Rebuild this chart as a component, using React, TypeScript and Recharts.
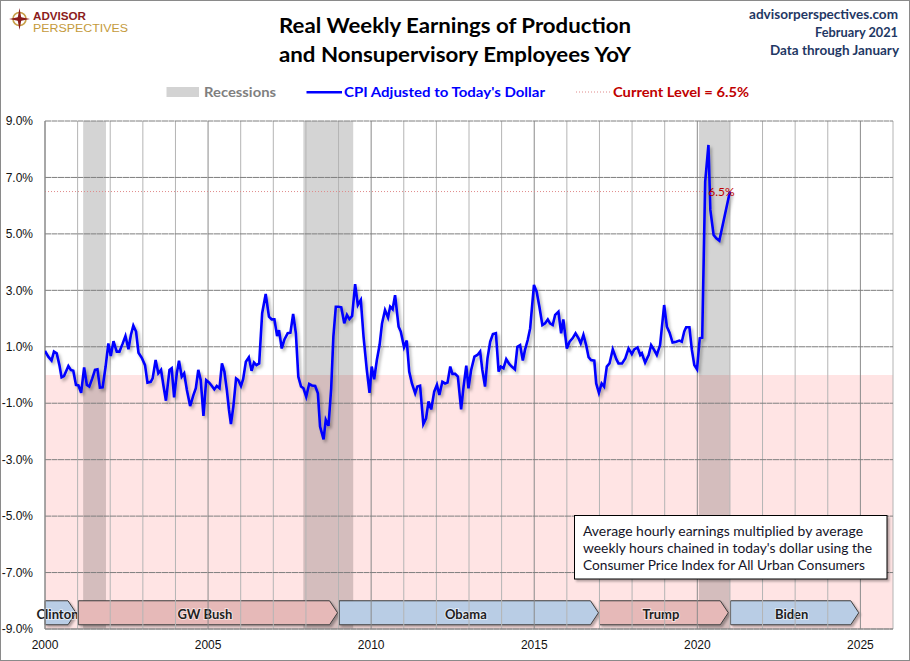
import React from 'react';
import {
  LineChart,
  Line,
  XAxis,
  YAxis,
  ReferenceArea,
  ReferenceLine,
  ReferenceDot,
} from 'recharts';

// [months since Jan 2000, YoY %]
const seg2000_2003: [number, number][] = [
  [0, 0.85], [1.2, 0.65], [2.4, 0.51], [3.3, 0.83], [4.3, 0.77], [5.3, 0.35], [6.1, -0.08], [7, -0.04],
  [8.6, 0.32], [9.5, 0.18], [10.4, 0.15], [11.4, -0.35], [12.3, -0.37], [13.3, -0.63], [14.4, 0.27],
  [15.4, -0.35], [16.3, -0.41], [17.4, -0.12], [18.4, 0.18], [19.3, 0.2], [20.2, -0.45], [21.2, -0.44],
  [22.3, 0.3], [23.3, 1.12], [24.2, 0.67], [25.2, 1.2], [26.4, 0.83], [27.4, 0.83], [28.6, 1.12],
  [29.6, 1.38], [30.7, 0.91], [31.6, 1.42], [32.5, 1.75], [33.5, 1.54], [34.4, 0.79], [35.6, 0.61],
  [36.8, 0.35], [37.7, -0.27], [38.9, -0.24], [39.6, -0.12], [40.7, 0.53], [41.7, 0.06], [42.7, 0.18],
  [43.6, -0.39], [44.5, -0.91], [45.8, 0.18], [46.6, 0.24], [47.5, -0.79],
];

const seg2004_2009: [number, number][] = [
  [48.5, 0.06], [49.3, 0.51], [50.3, -0.06], [51.2, 0.06], [52.2, -0.53], [53.4, -1.1], [54.6, -0.71],
  [55.5, -0.47], [56.4, 0.18], [57.3, -0.18], [58.3, -1.45], [59.3, -0.18], [60.4, -0.27], [61.4, -0.39],
  [62.3, -0.51], [63.2, -0.39], [64.2, -0.47], [65.1, 0.41], [66, 0.12], [66.9, -0.53], [67.7, -1.24],
  [68.4, -1.74], [69.3, -1.12], [70.3, -0.12], [71.1, -0.18], [72.1, -0.39], [72.9, -0.15], [73.9, 0.47],
  [75, 0.63], [76, 0.15], [76.9, 0.44], [77.8, 0.35], [78.8, 0.41], [79.9, 2.19], [81.2, 2.87],
  [82.4, 2.07], [83.4, 1.97], [84.4, 1.97], [85.4, 1.38], [86.1, 1.59], [87.1, 0.94], [88.1, 1.26],
  [89.3, 1.48], [90.3, 1.5], [91.3, 2.16], [92.3, 1.48], [93.2, -0.06], [94.2, -0.41], [95.1, -0.47],
  [96.1, -0.77], [97.2, -0.32], [98.2, -0.37], [99.4, -0.39], [100.4, -0.65], [101.2, -1.83],
  [102.5, -2.28], [103.3, -1.59], [104.3, -1.8], [105.3, -0.47], [106.1, 1.36], [107, 2.42], [108, 2.42],
  [109, 2.4], [110.1, 1.83], [111.1, 2.13], [112, 1.98], [113, 2.09],
];

const seg2009_2016: [number, number][] = [
  [114.1, 3.22], [115.1, 2.48], [116.2, 2.66], [117.2, 1.36], [118.4, 0.18], [119.4, -0.63], [120.2, 0.3],
  [121.1, -0.15], [122.1, 0.53], [123.1, 1.06], [124, 1.83], [125.1, 2.3], [126.2, 2.04], [127, 2.42],
  [127.9, 2.33], [128.8, 2.83], [130.1, 1.71], [130.9, 1.54], [132.1, 0.98], [133.1, 1.22], [134, 0.12],
  [135, -0.3], [136.2, -0.65], [137, -0.41], [138, -0.38], [139.2, -1.74], [140.2, -1.54], [141.1, -0.94],
  [142.1, -1.22], [143.2, -0.59], [144.2, -0.35], [145.1, -0.71], [146.2, -0.24], [147.2, -0.3],
  [148.1, -0.27], [149.1, 0.3], [149.9, 0.04], [150.9, 0.04], [151.9, -0.06], [153.1, -1.22], [154, -0.41],
  [155, 0.33], [155.8, -0.47], [156.8, 0.18], [158, 0.65], [159.1, 0.71], [160.1, 0.83], [160.9, 0.18],
  [161.9, -0.41], [162.8, 0.59], [163.8, 1.18], [164.8, 1.45], [165.9, 1.48], [166.9, 0.12], [167.7, 0.3],
  [168.7, 0.24], [169.7, 0.56], [170.8, 0.39], [171.7, 0.3], [172.9, 0.2], [173.8, 1.0], [174.8, 1.06],
  [175.8, 0.51], [176.6, 0.89], [177.6, 1.24], [178.5, 1.65], [179.9, 3.19], [180.9, 2.95], [181.9, 2.42],
  [183, 1.77], [184, 1.83], [185, 1.97], [185.8, 1.83], [186.8, 1.77], [187.7, 2.13], [188.9, 2.24],
  [189.9, 1.48], [190.7, 1.97], [192, 0.94], [193, 1.18], [194.1, 1.3], [195.2, 1.48], [196.3, 1.3],
  [197.1, 1.12], [198.1, 1.42], [199.1, 1.06], [200, 0.63], [200.9, 0.53], [202.1, 0.51],
];

const seg2017_2021: [number, number][] = [
  [202.8, -0.3], [203.8, -0.63], [204.8, -0.3], [205.7, -0.41], [206.7, 0.3], [207.7, 0.41], [208.9, 0.91],
  [210.2, 0.56], [211, 0.41], [212.3, 0.41], [213.5, 0.59], [214.7, 0.94], [215.9, 0.74], [216.8, 0.91],
  [218, 0.98], [219, 0.71], [219.6, 0.77], [220.8, 0.44], [222.1, 0.71], [223, 1.06], [224.1, 0.89],
  [225.1, 0.71], [226.3, 1.06], [227.8, 2.48], [228.8, 1.71], [229.8, 1.5], [230.9, 1.15], [232.2, 1.18],
  [233.4, 1.22], [234.3, 1.18], [235.2, 1.54], [235.9, 1.69], [237.1, 1.69], [238, 0.89], [238.9, 0.35],
  [239.9, 0.2], [240.9, 1.3], [241.8, 1.32], [242.9, 6.85], [244.1, 8.15], [244.8, 5.85], [246, 4.96],
  [247, 4.84], [248.1, 4.76], [252, 6.5],
];

const recessions: [number, number][] = [
  [2001.17, 2001.87],
  [2007.92, 2009.45],
  [2020.05, 2021.0],
];

const presidents = [
  { name: 'Clinton', start: 2000, end: 2000.95, party: 'D' },
  { name: 'GW Bush', start: 2001.02, end: 2008.97, party: 'R' },
  { name: 'Obama', start: 2009.02, end: 2016.97, party: 'D' },
  { name: 'Trump', start: 2017.0, end: 2020.95, party: 'R' },
  { name: 'Biden', start: 2021.02, end: 2024.95, party: 'D' },
];

const xTicks = [
  2000, 2001, 2002, 2003, 2004, 2005, 2006, 2007, 2008, 2009, 2010, 2011, 2012, 2013,
  2014, 2015, 2016, 2017, 2018, 2019, 2020, 2021, 2022, 2023, 2024, 2025, 2026,
];
const xLabelYears = [2000, 2005, 2010, 2015, 2020, 2025];
const yTicks = [-9, -7, -5, -3, -1, 1, 3, 5, 7, 9];
const currentLevel = 6.5;

const series = [...seg2000_2003, ...seg2004_2009, ...seg2009_2016, ...seg2017_2021].map(([m, v]) => ({
  x: 2000 + m / 12,
  y: v,
}));

const FONT = 'Lato, "Open Sans", sans-serif';
const AXIS_FONT = '"Liberation Sans", Arial, sans-serif';

const CHART_W = 910;
const CHART_H = 661;
const MARGIN = { top: 121, right: 17, bottom: 0, left: 0 };
const Y_AXIS_W = 45;

const makeArrow = (label: string, fill: string) => (props: any) => {
  const { x, y, width, height } = props;
  const tip = 8;
  const pts = `${x},${y} ${x + width - tip},${y} ${x + width},${y + height / 2} ${x + width - tip},${y + height} ${x},${y + height}`;
  return (
    <g>
      <polygon points={pts} fill={fill} stroke="#3c3c3c" strokeWidth={1} filter="url(#boxShadow)" />
      <text
        x={x + (width - tip) / 2 + 1}
        y={y + height / 2 + 1}
        textAnchor="middle"
        dominantBaseline="central"
        fontFamily={FONT}
        fontWeight={700}
        fontSize={13}
        fill="#1e1e1e"
        stroke="#ffffff"
        strokeWidth={2}
        strokeOpacity={0.55}
        paintOrder="stroke"
      >
        {label}
      </text>
    </g>
  );
};

export default function App() {
  return (
    <div
      style={{
        position: 'absolute',
        left: 0,
        top: 0,
        width: CHART_W,
        height: CHART_H,
        background: '#ffffff',
        boxSizing: 'border-box',
        border: '1px solid #8a8a8a',
        overflow: 'hidden',
      }}
    >
      <svg width={0} height={0} style={{ position: 'absolute' }}>
        <defs>
          <filter id="lineShadow" x="-5%" y="-10%" width="115%" height="130%">
            <feDropShadow dx="2" dy="2.5" stdDeviation="1.4" floodColor="#000" floodOpacity="0.3" />
          </filter>
          <filter id="boxShadow" x="-5%" y="-20%" width="115%" height="160%">
            <feDropShadow dx="2" dy="2" stdDeviation="1.2" floodColor="#000" floodOpacity="0.3" />
          </filter>
        </defs>
      </svg>
      <div style={{ position: 'absolute', left: -1, top: -1 }}>
        <LineChart width={CHART_W} height={CHART_H} data={series} margin={MARGIN}>
          <XAxis
            type="number"
            dataKey="x"
            domain={[2000, 2026]}
            ticks={xTicks}
            interval={0}
            allowDataOverflow
            height={32}
            tickLine={false}
            tickMargin={5}
            axisLine={{ stroke: '#8a8a8a' }}
            tick={{ fontSize: 12, fontFamily: AXIS_FONT, fill: '#111' }}
            tickFormatter={(v: number) => (xLabelYears.includes(v) ? String(v) : '')}
          />
          <YAxis
            type="number"
            domain={[-9, 9]}
            ticks={yTicks}
            interval={0}
            allowDataOverflow
            width={Y_AXIS_W}
            tickLine={false}
            tickMargin={6}
            axisLine={{ stroke: '#8a8a8a' }}
            tick={{ fontSize: 12, fontFamily: AXIS_FONT, fill: '#111' }}
            tickFormatter={(v: number) => v.toFixed(1) + '%'}
          />
          <ReferenceArea x1={2000} x2={2026} y1={-9} y2={0} fill="#ff0000" fillOpacity={0.105} stroke="none" />
          {xTicks.map((t) => (
            <ReferenceLine
              key={'vx' + t}
              x={t}
              stroke={t % 5 === 0 ? '#8a8a8a' : '#b4b4b4'}
              strokeWidth={1}
            />
          ))}
          {yTicks.map((t) => (
            <ReferenceLine
              key={'hl' + t}
              segment={[
                { x: 2000, y: t },
                { x: 2026, y: t },
              ]}
              stroke="#7e7e7e"
              strokeWidth={1}
              strokeDasharray="6 0.5"
            />
          ))}
          {recessions.map(([a, b], i) => (
            <ReferenceArea key={'r' + i} x1={a} x2={b} y1={-9} y2={9} fill="#000000" fillOpacity={0.17} stroke="none" />
          ))}
          <ReferenceLine
            segment={[
              { x: 2000, y: currentLevel },
              { x: 2020.3, y: currentLevel },
            ]}
            stroke="#e08a8a"
            strokeWidth={1}
            strokeDasharray="1 2"
          />
          {presidents.map((p) => (
            <ReferenceArea
              key={p.name}
              x1={p.start}
              x2={p.end}
              y1={-8.85}
              y2={-8.0}
              shape={makeArrow(p.name, p.party === 'R' ? '#e6b9b8' : '#b9cde5')}
            />
          ))}
          <Line
            type="linear"
            dataKey="y"
            stroke="#0000ff"
            strokeWidth={2.6}
            dot={false}
            isAnimationActive={false}
            filter="url(#lineShadow)"
            zIndex={900}
          />
          <ReferenceDot
            x={2020.74}
            y={currentLevel}
            r={0}
            fill="none"
            stroke="none"
            label={{ value: '6.5%', position: 'center', fill: '#c00000', fontSize: 12, fontFamily: FONT }}
          />
        </LineChart>
      </div>
      <svg
        width={CHART_W}
        height={CHART_H}
        style={{ position: 'absolute', left: -1, top: -1, pointerEvents: 'none' }}
      >
        {/* Logo */}
        <circle cx={19.5} cy={19} r={6.5} fill="none" stroke="#c8a04a" strokeWidth={1.6} />
        <polygon
          points="19.5,8 21.2,17.3 30,19 21.2,20.7 19.5,30 17.8,20.7 9,19 17.8,17.3"
          fill="#8b1c1c"
        />
        <circle cx={19.5} cy={19} r={2.2} fill="#8b1c1c" />
        <text x={33} y={20} fontFamily={AXIS_FONT} fontWeight={700} fontSize={10} fill="#8b1c1c" textLength={53} lengthAdjust="spacingAndGlyphs">
          ADVISOR
        </text>
        <text x={33} y={31.5} fontFamily={AXIS_FONT} fontWeight={400} fontSize={10} fill="#c49a3c" textLength={95} lengthAdjust="spacingAndGlyphs">
          PERSPECTIVES
        </text>

        {/* Title */}
        <text x={279} y={33.3} fontFamily={FONT} fontWeight={700} fontSize={21} fill="#000" textLength={352} lengthAdjust="spacingAndGlyphs">
          Real Weekly Earnings of Production
        </text>
        <text x={279} y={62} fontFamily={FONT} fontWeight={700} fontSize={21} fill="#000" textLength={352} lengthAdjust="spacingAndGlyphs">
          and Nonsupervisory Employees YoY
        </text>

        {/* Top right */}
        <text x={898} y={19} textAnchor="end" fontFamily={FONT} fontWeight={700} fontSize={14} fill="#1f3864" textLength={149} lengthAdjust="spacingAndGlyphs">
          advisorperspectives.com
        </text>
        <text x={898} y={37} textAnchor="end" fontFamily={FONT} fontWeight={700} fontSize={14} fill="#1f3864" textLength={83} lengthAdjust="spacingAndGlyphs">
          February 2021
        </text>
        <text x={899} y={54.5} textAnchor="end" fontFamily={FONT} fontWeight={700} fontSize={14} fill="#1f3864" textLength={129} lengthAdjust="spacingAndGlyphs">
          Data through January
        </text>

        {/* Legend */}
        <rect x={166.5} y={87} width={32.5} height={10} fill="#d3d3d3" />
        <text x={204} y={96.7} fontFamily={FONT} fontWeight={700} fontSize={14} fill="#7f7f7f" textLength={72} lengthAdjust="spacingAndGlyphs">
          Recessions
        </text>
        <line x1={306.5} y1={92.3} x2={342} y2={92.3} stroke="#0000ff" strokeWidth={2.6} />
        <text x={344} y={96.7} fontFamily={FONT} fontWeight={700} fontSize={14} fill="#0000ff" textLength={201} lengthAdjust="spacingAndGlyphs">
          CPI Adjusted to Today's Dollar
        </text>
        <line x1={576} y1={92} x2={610} y2={92} stroke="#e08a8a" strokeWidth={1} strokeDasharray="1 2" />
        <text x={613} y={96.7} fontFamily={FONT} fontWeight={700} fontSize={14} fill="#c00000" textLength={136} lengthAdjust="spacingAndGlyphs">
          Current Level = 6.5%
        </text>

        {/* Annotation box */}
        <rect x={574.5} y={515.5} width={312.5} height={63.5} fill="#ffffff" stroke="#000" strokeWidth={1} filter="url(#boxShadow)" />
        <text x={583} y={535.7} fontFamily={FONT} fontSize={14} fill="#141428" textLength={280} lengthAdjust="spacingAndGlyphs">
          Average hourly earnings multiplied by average
        </text>
        <text x={583} y={552.7} fontFamily={FONT} fontSize={14} fill="#141428" textLength={289} lengthAdjust="spacingAndGlyphs">
          weekly hours chained in today's dollar using the
        </text>
        <text x={583} y={570} fontFamily={FONT} fontSize={14} fill="#141428" textLength={282} lengthAdjust="spacingAndGlyphs">
          Consumer Price Index for All Urban Consumers
        </text>
      </svg>
    </div>
  );
}
